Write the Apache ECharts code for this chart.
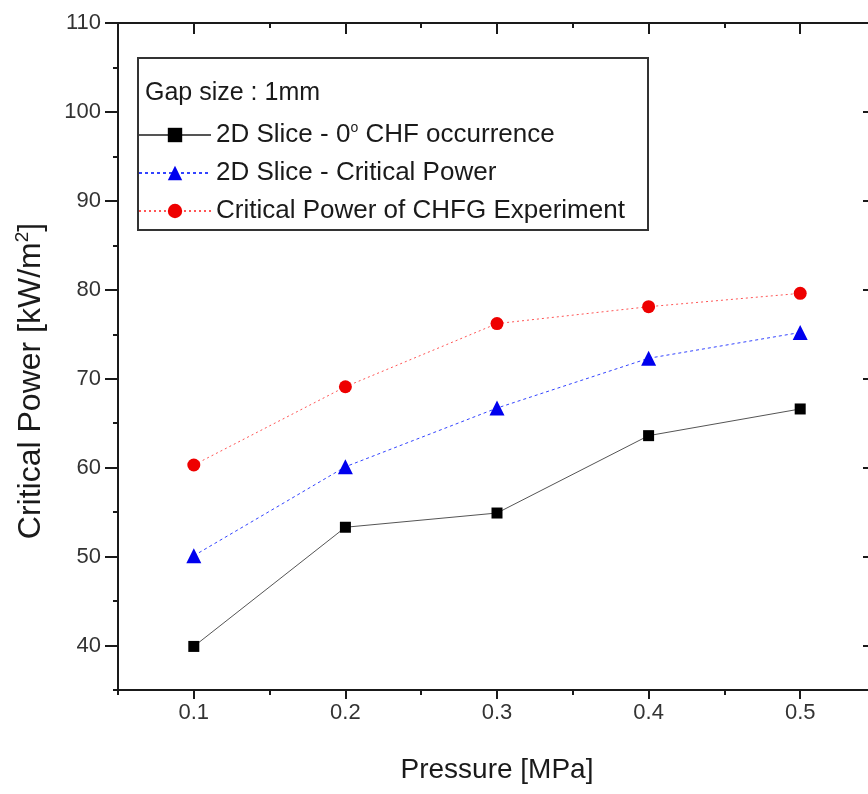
<!DOCTYPE html>
<html>
<head>
<meta charset="utf-8">
<script src="https://cdn.jsdelivr.net/npm/echarts@6/dist/echarts.min.js"></script>
<style>html,body{margin:0;padding:0;background:#fff;}#c{width:868px;height:794px;}</style>
</head>
<body>
<div id="c"></div>
<script>
// ---- data ----
var pressures = [0.1, 0.2, 0.3, 0.4, 0.5];
var chfOccurrence = [39.9, 53.3, 54.9, 63.6, 66.6];
var slicePower = [50.1, 60.1, 66.7, 72.3, 75.2];
var experimentPower = [60.3, 69.1, 76.2, 78.1, 79.6];
var xMajorTicks = [0.1, 0.2, 0.3, 0.4, 0.5];
var xMinorTicks = [0.05, 0.15, 0.25, 0.35, 0.45, 0.55];
var yMajorTicks = [40, 50, 60, 70, 80, 90, 100, 110];
var yMinorTicks = [35, 45, 55, 65, 75, 85, 95, 105];
var seriesNames = ['2D Slice - 0° CHF occurrence', '2D Slice - Critical Power', 'Critical Power of CHFG Experiment'];
var noteText = 'Gap size : 1mm';
var xTitle = 'Pressure [MPa]';
var yTitle = ['Critical Power [kW/m', '2', ']'];

function pairs(xs, ys) { return xs.map(function (x, i) { return [x, ys[i]]; }); }

var FONT = '"Liberation Sans", Arial, sans-serif';
var AX = '#1a1a1a';
var TXT = '#1a1a1a';
var XMIN = 0.05, XMAX = 0.55, YMIN = 35, YMAX = 110;

function xAx(pos, ticks, len, inside, labels, extra) {
  var o = {
    type: 'value', position: pos, min: XMIN, max: XMAX, gridIndex: 0,
    axisLine: { show: true, onZero: false, lineStyle: { color: AX, width: 2 } },
    axisTick: { show: true, inside: inside, length: len, customValues: ticks, lineStyle: { color: AX, width: 2 } },
    axisLabel: labels ? { show: true, customValues: ticks, margin: 12, color: '#333', fontSize: 22, fontFamily: FONT,
      formatter: function (v) { return v.toFixed(1); } } : { show: false },
    splitLine: { show: false }
  };
  for (var k in extra) o[k] = extra[k];
  return o;
}
function yAx(pos, ticks, len, inside, labels, extra) {
  var o = {
    type: 'value', position: pos, min: YMIN, max: YMAX, gridIndex: 0,
    axisLine: { show: true, onZero: false, lineStyle: { color: AX, width: 2 } },
    axisTick: { show: true, inside: inside, length: len, customValues: ticks, lineStyle: { color: AX, width: 2 } },
    axisLabel: labels ? { show: true, customValues: ticks, margin: 17, color: '#333', fontSize: 22, fontFamily: FONT } : { show: false },
    splitLine: { show: false }
  };
  for (var k in extra) o[k] = extra[k];
  return o;
}

var chart = echarts.init(document.getElementById('c'), null, { renderer: 'canvas' });
chart.setOption({
  backgroundColor: '#fff',
  animation: false,
  grid: { left: 118, right: -8, top: 23, bottom: 104, containLabel: false, outerBoundsMode: 'none' },
  xAxis: [
    xAx('bottom', xMajorTicks, 9, false, true, {
      name: xTitle, nameLocation: 'middle', nameGap: 66,
      nameTextStyle: { fontSize: 28, color: TXT, fontFamily: FONT }
    }),
    xAx('bottom', xMinorTicks, 5, false, false, {}),
    xAx('top', xMajorTicks, 11, true, false, {}),
    xAx('top', xMinorTicks, 5, true, false, {})
  ],
  yAxis: [
    yAx('left', yMajorTicks, 13, false, true, {}),
    yAx('left', yMinorTicks, 5, false, false, {}),
    yAx('right', yMajorTicks, 13, true, false, {}),
    yAx('right', yMinorTicks, 5, true, false, {})
  ],
  legend: {
    show: true, orient: 'vertical', left: 138, top: 121,
    itemWidth: 72, itemHeight: 18, itemGap: 12, padding: 0,
    data: seriesNames,
    textStyle: { fontSize: 26, color: TXT, fontFamily: FONT,
      rich: { a: { fontSize: 26, color: TXT, fontFamily: FONT }, s: { fontSize: 14, color: TXT, fontFamily: FONT, padding: [0, 0, 14, 0] } } },
    formatter: function (n) {
      if (n.indexOf('°') >= 0) {
        var p = n.split('°');
        return '{a|' + p[0] + '}{s|o}{a|' + p[1] + '}';
      }
      return '{a|' + n + '}';
    }
  },
  graphic: [
    { type: 'rect', z: 0, shape: { x: 138, y: 58, width: 510, height: 172 },
      style: { fill: '#fff', stroke: '#333', lineWidth: 2 } },
    { type: 'text', z: 1, x: 145, y: 93, style: { text: noteText, font: '25px "Liberation Sans", Arial, sans-serif', fill: TXT, verticalAlign: 'middle' } },
    { type: 'text', z: 1, x: 31, y: 381, rotation: Math.PI / 2,
      style: { text: '{a|' + yTitle[0] + '}{s|' + yTitle[1] + '}{a|' + yTitle[2] + '}', align: 'center', verticalAlign: 'middle',
        rich: { a: { fontSize: 32, fill: TXT, fontFamily: FONT }, s: { fontSize: 19, fill: TXT, fontFamily: FONT, padding: [0, 0, 16, 0] } } } }
  ],
  series: [
    { name: seriesNames[0], type: 'line', xAxisIndex: 0, yAxisIndex: 0, data: pairs(pressures, chfOccurrence),
      symbol: 'rect', symbolSize: 11, itemStyle: { color: '#000' },
      lineStyle: { color: '#555', width: 1, type: 'solid' }, z: 5 },
    { name: seriesNames[1], type: 'line', xAxisIndex: 0, yAxisIndex: 0, data: pairs(pressures, slicePower),
      symbol: 'triangle', symbolSize: 15, itemStyle: { color: '#0000ee' },
      lineStyle: { color: '#3344ff', width: 1, type: [3, 3] }, z: 5 },
    { name: seriesNames[2], type: 'line', xAxisIndex: 0, yAxisIndex: 0, data: pairs(pressures, experimentPower),
      symbol: 'circle', symbolSize: 13, itemStyle: { color: '#ee0000' },
      lineStyle: { color: '#ff5555', width: 1, type: [2, 3] }, z: 5 }
  ]
});
</script>
</body>
</html>
